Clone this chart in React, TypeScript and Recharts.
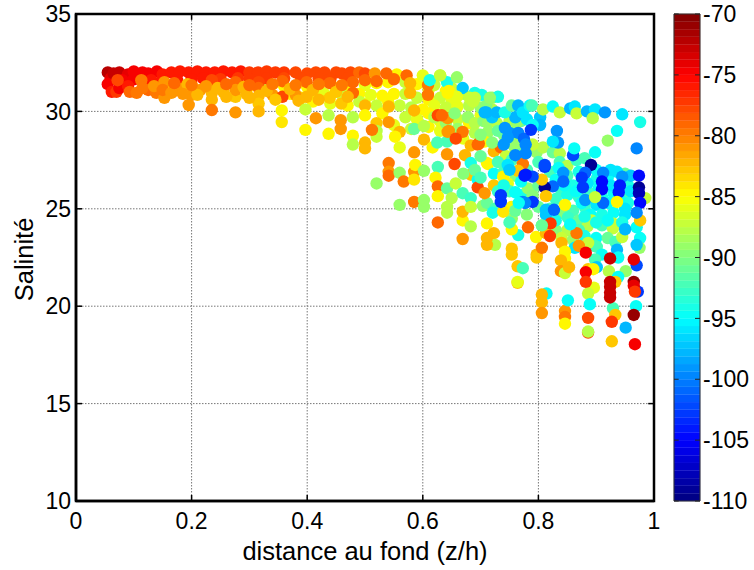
import {
  ScatterChart,
  Scatter,
  XAxis,
  YAxis,
  CartesianGrid,
  ReferenceArea,
  ReferenceLine,
} from 'recharts';

type Point = [number, number, number]; // z/h, salinité, niveau (dB)

const xTicks = [0, 0.2, 0.4, 0.6, 0.8, 1];
const yTicks = [10, 15, 20, 25, 30, 35];
const colorTicks = [-110, -105, -100, -95, -90, -85, -80, -75, -70];

// couche jaune sous la bande rouge
const bandeJaune: Point[] = [
  [.12, 31.35, -85], [.16, 31.3, -85], [.2, 31.35, -84], [.25, 31.3, -85], [.3, 31.3, -85], [.33, 31.2, -87],
  [.36, 31.3, -85], [.4, 31.25, -85], [.42, 31.2, -85], [.45, 31.2, -85], [.47, 31.3, -85], [.5, 31.35, -86],
  [.52, 31.45, -85], [.54, 31.5, -85], [.555, 31.9, -85], [.57, 31.5, -87], [.59, 31.4, -85], [.6, 31.85, -86],
  [.61, 31.1, -86], [.63, 31.85, -87], [.62, 31.35, -87], [.64, 31.05, -85], [.65, 31.2, -87], [.37, 30.9, -85],
  [.39, 30.7, -85], [.43, 30.9, -86], [.46, 30.85, -87], [.49, 30.9, -85], [.51, 30.85, -86], [.53, 30.8, -85],
  [.55, 30.9, -85], [.57, 30.9, -87], [.59, 30.7, -87], [.61, 30.6, -85], [.63, 30.7, -87], [.65, 30.6, -86],
  [.5, 30.4, -86], [.52, 30.3, -87], [.54, 30.5, -85], [.56, 30.3, -87], [.58, 30.2, -88], [.6, 30.1, -85],
  [.62, 30.3, -86], [.64, 30.2, -87], [.66, 30.25, -86], [.68, 30.3, -88], [.53, 29.9, -85], [.57, 29.7, -87],
  [.59, 29.6, -86], [.61, 29.9, -85], [.63, 29.5, -86], [.66, 29.6, -87], [.68, 29.4, -85], [.7, 29.8, -86],
  [.55, 29.3, -86], [.58, 29.1, -87], [.61, 29.2, -85], [.63, 29.0, -86], [.65, 28.7, -85], [.67, 28.6, -86],
  [.41, 30.5, -85], [.44, 30.4, -86], [.47, 30.3, -85], [.49, 30.5, -87], [.62, 29.7, -88], [.64, 29.4, -89],
  [.67, 30.9, -88], [.7, 30.2, -89], [.72, 30.1, -88], [.66, 29.1, -89], [.69, 28.9, -88], [.71, 30.3, -90],
];

const bandeRouge: Point[] = [
  [.055, 32, -72], [.06, 31.7, -74], [.055, 31.4, -75], [.065, 31.95, -73], [.075, 32, -73], [.09, 31.9, -74],
  [.1, 32.05, -75], [.115, 32, -75], [.125, 31.95, -75], [.14, 32.05, -75], [.15, 31.9, -76], [.165, 32, -76],
  [.18, 32.05, -76], [.195, 32, -76], [.21, 32.05, -76], [.225, 32, -76], [.24, 32, -76], [.255, 32.05, -76],
  [.27, 32, -76], [.285, 32.05, -76], [.3, 32, -77], [.315, 32, -77], [.33, 32.05, -77], [.345, 32, -77],
  [.36, 32, -77], [.38, 32, -78], [.4, 31.95, -78], [.415, 32, -78], [.43, 32, -78], [.45, 32, -78],
  [.46, 31.95, -78], [.475, 32, -78], [.49, 32, -79], [.5, 31.95, -78], [.08, 31.6, -75], [.1, 31.65, -75],
  [.13, 31.6, -76], [.15, 31.65, -76], [.175, 31.6, -76], [.2, 31.65, -76], [.22, 31.7, -76], [.25, 31.65, -77],
  [.28, 31.7, -77], [.3, 31.65, -77], [.33, 31.7, -77], [.36, 31.7, -78], [.39, 31.7, -78], [.42, 31.7, -78],
  [.44, 31.65, -78], [.47, 31.7, -78], [.062, 31, -76], [.07, 31, -77], [.075, 31.2, -75], [.09, 31.3, -76],
];

const bandeOrange: Point[] = [
  [.072, 31.6, -78], [.093, 31, -79], [.105, 30.95, -80], [.113, 31.6, -80], [.125, 31.1, -79], [.139, 30.95, -80],
  [.153, 31.5, -81], [.153, 30.7, -81], [.17, 31.05, -80], [.18, 31.15, -81], [.193, 31.4, -82], [.195, 30.33, -81],
  [.2, 30.85, -81], [.215, 31.1, -81], [.235, 31.6, -78], [.235, 30.95, -82], [.235, 30.6, -82], [.235, 30.07, -80],
  [.255, 31.0, -82], [.276, 31.5, -79], [.276, 30.75, -83], [.276, 31.1, -81], [.276, 29.95, -81], [.295, 30.9, -82],
  [.316, 31.5, -78], [.316, 31.2, -79], [.316, 30.8, -82], [.316, 30.4, -83], [.316, 30, -82], [.34, 30.85, -81],
  [.357, 31.55, -79], [.357, 30.75, -78], [.38, 30.85, -81], [.399, 31.5, -79], [.399, 30.75, -82], [.415, 29.65, -81],
  [.439, 31.45, -79], [.439, 30.7, -83], [.458, 29.55, -81], [.458, 29.1, -81], [.459, 30.4, -83], [.479, 30.95, -79],
  [.479, 31.5, -79], [.5, 31.6, -79], [.517, 31.95, -81], [.5, 30.3, -82], [.52, 31.55, -79], [.537, 31.95, -79],
  [.55, 31.65, -79], [.572, 31.85, -79], [.578, 31.45, -82], [.578, 30.95, -82], [.541, 30.25, -82], [.541, 29.45, -81],
  [.52, 29.4, -83], [.585, 30.05, -82], [.609, 31.35, -80], [.609, 30.85, -80], [.626, 29.8, -78], [.643, 29.65, -81],
  [.115, 31.2, -80], [.135, 31.3, -81], [.15, 31.1, -80], [.165, 30.95, -81], [.185, 30.9, -81], [.21, 30.85, -82],
  [.225, 31.3, -81], [.245, 31.2, -82], [.26, 30.75, -82], [.29, 31.25, -82], [.3, 30.7, -82], [.33, 31.05, -82],
  [.345, 30.6, -83], [.37, 31.15, -82], [.385, 30.55, -82], [.41, 31.1, -82], [.42, 30.6, -82], [.45, 31.0, -83],
  [.47, 30.75, -82], [.17, 31.45, -79], [.2, 31.35, -80], [.26, 31.4, -79], [.3, 31.35, -79], [.34, 31.4, -80],
  [.38, 31.35, -80], [.42, 31.4, -80], [.46, 31.35, -80],
];

const franges: Point[] = [
  [.356, 30.05, -85], [.356, 29.45, -84], [.397, 30.1, -87], [.397, 29.05, -85], [.437, 29.8, -88], [.437, 28.85, -85],
  [.479, 29.7, -88], [.479, 28.75, -85], [.479, 28.3, -88], [.5, 29.8, -85], [.5, 28.4, -82], [.5, 28.1, -82],
  [.52, 29, -88], [.52, 28.7, -87], [.512, 29.05, -80], [.541, 27.35, -80], [.541, 26.9, -81], [.541, 26.7, -79],
  [.52, 26.3, -89], [.56, 26.85, -89], [.567, 26.4, -80], [.56, 25.2, -89], [.585, 25.35, -80], [.602, 25.1, -89],
  [.602, 25.45, -89], [.585, 26.9, -81], [.585, 26.5, -84], [.587, 27.25, -85], [.602, 26.95, -89], [.585, 27.9, -81],
  [.56, 28.15, -86], [.56, 28.95, -82], [.552, 28.7, -85], [.585, 29.1, -91], [.602, 28.55, -82], [.617, 28.15, -85],
  [.602, 29.25, -88], [.626, 27.15, -92], [.622, 26.6, -85], [.626, 26.15, -79], [.626, 25.65, -85], [.642, 26.05, -91],
  [.65, 25.55, -88], [.657, 26.3, -87], [.642, 25.1, -88], [.642, 24.8, -88], [.626, 24.3, -79], [.669, 24.4, -85],
  [.669, 24.85, -82], [.683, 24.1, -88], [.669, 23.45, -81], [.669, 25.8, -92], [.683, 25.55, -93], [.683, 25.1, -87],
  [.704, 25.15, -89], [.711, 25.3, -91], [.711, 24.25, -85], [.723, 23.75, -82], [.725, 23.15, -88], [.711, 23.5, -82],
  [.711, 23.15, -82], [.765, 23.65, -94], [.754, 22.95, -83], [.754, 22.65, -83], [.754, 23.95, -85], [.754, 24.5, -89],
  [.754, 25.1, -85], [.725, 25, -92], [.721, 24.8, -94], [.739, 24.85, -84], [.764, 22.05, -83], [.773, 21.95, -92],
  [.764, 21.2, -83], [.764, 21.25, -86], [.814, 20.65, -95], [.806, 20.6, -82], [.806, 20.2, -82], [.806, 19.65, -81],
  [.846, 19.75, -81], [.846, 19.45, -80], [.846, 19.1, -85], [.851, 20.3, -95], [.797, 22.65, -82], [.797, 22.5, -83],
  [.806, 23, -80],
];

// zone centrale, verts et cyans
const milieu: Point[] = [
  [.612, 31.6, -94], [.642, 31.5, -94], [.659, 31.75, -89], [.63, 31.85, -87], [.669, 31.2, -97], [.69, 30.95, -94],
  [.702, 30.85, -94], [.681, 30.7, -87], [.69, 30.7, -87], [.645, 31.05, -85], [.659, 30.75, -86], [.72, 30.7, -89],
  [.73, 30.75, -94], [.716, 30.7, -89], [.687, 30.5, -87], [.643, 30.95, -85], [.655, 29.9, -90], [.678, 29.7, -89],
  [.69, 29.4, -88], [.705, 29.5, -90], [.713, 29.4, -89], [.713, 28.95, -89], [.728, 29.4, -88], [.645, 29, -81],
  [.633, 29.8, -79], [.642, 28.45, -92], [.625, 28.4, -92], [.643, 28.95, -81], [.669, 28.95, -80], [.657, 28.6, -78],
  [.642, 27.8, -81], [.655, 27.3, -78], [.673, 27.75, -82], [.683, 28.25, -82], [.695, 28.3, -79], [.707, 28.45, -85],
  [.697, 28.35, -79], [.723, 27.95, -82], [.735, 28.15, -79], [.744, 27.7, -87], [.683, 27.35, -94], [.711, 27.35, -85],
  [.713, 27.3, -85], [.683, 26.75, -83], [.695, 26.5, -95], [.723, 26.8, -95], [.723, 26.2, -83], [.695, 26.1, -78],
  [.707, 25.8, -81], [.67, 26.8, -90], [.69, 27, -91], [.7, 27.7, -91], [.72, 28.4, -90], [.74, 28.8, -90],
  [.76, 29, -90], [.7, 28.8, -90], [.73, 29, -91], [.75, 29.5, -88], [.77, 29.5, -91], [.75, 28.4, -90],
  [.77, 28.5, -89], [.763, 29.45, -89], [.763, 28.7, -89], [.759, 28.15, -89], [.797, 27.9, -89], [.808, 28.15, -88],
  [.79, 28.3, -87], [.77, 27.8, -91], [.754, 27.5, -92], [.73, 27.4, -92], [.74, 26.9, -92], [.76, 26.7, -90],
  [.78, 27, -92], [.8, 27.4, -92], [.747, 26.3, -86], [.739, 26.65, -85], [.75, 25.9, -92], [.77, 25.7, -94],
  [.782, 26.05, -89], [.76, 25.85, -95], [.79, 25.7, -90], [.8, 26.2, -91], [.8, 25.1, -91], [.78, 24.7, -90],
  [.76, 24.9, -91], [.73, 25.9, -93], [.773, 27.3, -80], [.765, 26.95, -83], [.7, 26.6, -92], [.75, 24.3, -92],
  [.806, 24.15, -91], [.82, 25, -92], [.82, 26.9, -92], [.825, 27.9, -91], [.837, 27.85, -88], [.837, 27.4, -92],
  [.85, 27.2, -88], [.85, 26.7, -92], [.866, 27.5, -93], [.87, 26.9, -94], [.86, 26.2, -94], [.84, 25.9, -93],
  [.83, 25.5, -93], [.85, 25.7, -94], [.87, 25.6, -93], [.89, 25.8, -93], [.9, 26.5, -94], [.9, 27, -95],
  [.92, 26.6, -95], [.925, 27, -96], [.95, 26.8, -91], [.955, 26.2, -94], [.95, 25.7, -92], [.93, 25.8, -95],
  [.955, 25.3, -94], [.92, 25.3, -95], [.9, 25.2, -96], [.88, 25.1, -93], [.86, 24.9, -92], [.84, 24.8, -90],
  [.851, 24.55, -93], [.87, 24.4, -91], [.89, 24.7, -95], [.91, 24.7, -94], [.93, 24.8, -95], [.95, 24.7, -96],
  [.892, 24.4, -87], [.885, 24.1, -88], [.91, 24.15, -92], [.929, 24.25, -87], [.929, 24, -87], [.87, 23.9, -92],
  [.85, 23.9, -88], [.83, 23.9, -90], [.84, 23.5, -87], [.86, 23.4, -89], [.88, 23.6, -94], [.9, 23.5, -95],
  [.92, 23.5, -91], [.933, 23.3, -92], [.945, 23.55, -87], [.897, 23.1, -92], [.901, 23.05, -92], [.91, 22.65, -95],
  [.898, 22.4, -92], [.901, 22, -97], [.936, 22.9, -98], [.938, 22.5, -95], [.886, 23.25, -87], [.863, 23, -96],
  [.896, 20.95, -86], [.886, 20.65, -87], [.889, 20.1, -95], [.929, 19.9, -92], [.969, 20, -95], [.922, 21.8, -88],
  [.951, 21.8, -89], [.938, 21.5, -95], [.97, 24.05, -95], [.976, 24.4, -83], [.985, 25.55, -87], [.976, 23.5, -95],
  [.975, 23, -89], [.796, 23.55, -85], [.813, 23.75, -82], [.84, 23.25, -82], [.846, 22.8, -85], [.846, 22.45, -85],
  [.839, 22.35, -82], [.839, 21.8, -81], [.846, 21.7, -87], [.853, 22, -82], [.866, 23.75, -80], [.87, 23.1, -81],
  [.886, 21.9, -83], [.895, 21.9, -85], [.933, 19.55, -83], [.933, 21.25, -83],
];

// complément de cyans et de bleus dans le nuage de droite
const cyans: Point[] = [
  [.83, 26.5, -95], [.845, 26.2, -95], [.865, 25.9, -95], [.885, 26.3, -96], [.905, 26.1, -95], [.925, 26.2, -96],
  [.94, 25.5, -95], [.96, 25.9, -96], [.96, 26.7, -97], [.91, 25.6, -94], [.88, 24.6, -94], [.9, 24.3, -94],
  [.855, 24.2, -95], [.83, 24.4, -94], [.92, 24.4, -95], [.945, 24.3, -94], [.95, 25, -96], [.875, 25.3, -95],
  [.835, 27.1, -95], [.88, 27.6, -92], [.77, 26.4, -95], [.74, 26.2, -94], [.78, 29.6, -96], [.76, 29.7, -98],
  [.72, 29.7, -97], [.75, 28.9, -99], [.765, 28.9, -100], [.74, 28.3, -99], [.76, 27.75, -100], [.775, 28.6, -101],
];

const bleus: Point[] = [
  [.707, 29.95, -98], [.71, 29.95, -98], [.728, 29.95, -98], [.742, 29.95, -94], [.754, 30.3, -91], [.765, 30.3, -98],
  [.773, 29.95, -96], [.785, 30.3, -95], [.789, 30.3, -92], [.742, 29.15, -99], [.747, 28.65, -99], [.747, 27.25, -96],
  [.75, 27, -97], [.778, 28.3, -100], [.778, 27.85, -100], [.803, 29.7, -97], [.803, 29.3, -98], [.79, 29.3, -95],
  [.787, 29.05, -103], [.808, 30.1, -88], [.825, 30.25, -95], [.837, 29.95, -87], [.855, 30.15, -98], [.863, 30.25, -96],
  [.866, 29.9, -87], [.884, 30, -98], [.898, 30.1, -96], [.894, 29.65, -88], [.915, 29.95, -99], [.945, 29.85, -96],
  [.976, 29.45, -94], [.936, 29, -95], [.92, 28.5, -89], [.97, 28.1, -100], [.898, 27.9, -95], [.86, 27.75, -102],
  [.862, 28.1, -95], [.832, 29, -99], [.834, 28.4, -99], [.825, 28.45, -96], [.811, 27.15, -103], [.811, 27.25, -102],
  [.891, 27.25, -109], [.881, 26.85, -101], [.875, 26.6, -103], [.877, 26.1, -103], [.912, 26.85, -100], [.91, 26.4, -105],
  [.91, 26, -105], [.936, 26.9, -96], [.945, 26.65, -99], [.941, 26.2, -104], [.939, 25.85, -104], [.974, 26.7, -105],
  [.974, 26.1, -109], [.974, 25.8, -108], [.976, 25.3, -105], [.97, 24.8, -100], [.881, 25.45, -99], [.912, 25.3, -101],
  [.898, 25.6, -87], [.936, 25.35, -85], [.843, 26.85, -99], [.843, 26.4, -101], [.825, 26.15, -101], [.811, 26.1, -109],
  [.813, 25.65, -83], [.806, 26.5, -83], [.79, 26.65, -102], [.776, 26.7, -104], [.778, 26.75, -104], [.79, 25.35, -103],
  [.773, 25.35, -100], [.777, 25.3, -100], [.766, 25.3, -95], [.735, 25.7, -103], [.735, 25.35, -103], [.813, 24.95, -97],
  [.813, 24.7, -97], [.827, 24.95, -101], [.846, 25.2, -85], [.95, 23.95, -98], [.97, 23.15, -97], [.97, 22.1, -102],
  [.972, 20.75, -103], [.951, 18.9, -98],
];

// points chauds du bas à droite
const chauds: Point[] = [
  [.782, 24.05, -79], [.821, 24.25, -77], [.82, 23.6, -77], [.806, 24.15, -91], [.882, 22.75, -75], [.924, 22.45, -73],
  [.965, 22.4, -74], [.882, 21.75, -75], [.882, 21.25, -77], [.924, 21.25, -73], [.924, 21, -73], [.924, 20.7, -73],
  [.924, 20.45, -73], [.965, 21.25, -71], [.965, 21.05, -74], [.967, 20.75, -77], [.965, 19.55, -71], [.927, 19.2, -77],
  [.886, 19.4, -78], [.886, 18.65, -78], [.886, 18.7, -88], [.927, 18.2, -83], [.967, 18.05, -75],
];

const points: Point[] = [...bandeJaune, ...bandeRouge, ...bandeOrange, ...franges, ...milieu, ...cyans, ...bleus, ...chauds];
const scatterData = points.map(([x, y, c]) => ({ x, y, c }));

const LEVELS = 64;
const C_MIN = -110;
const C_MAX = -70;
const levels = Array.from({ length: LEVELS }, (_, i) => i);

function jet(t: number) {
  const f = (v: number) => Math.round(255 * Math.max(0, Math.min(1, 1.5 - Math.abs(4 * t - v))));
  return `rgb(${f(3)},${f(2)},${f(1)})`;
}

function levelColor(c: number) {
  const i = Math.max(0, Math.min(LEVELS - 1, Math.floor(((c - C_MIN) / (C_MAX - C_MIN)) * LEVELS)));
  return jet((i + 0.5) / LEVELS);
}

const FONT = '"Liberation Sans", Arial, sans-serif';
const blank = () => <g />;

const renderDot = (props: any) => (
  <circle cx={props.cx} cy={props.cy} r={6.2} fill={levelColor(props.payload.c)} />
);

export default function App() {
  const tickStyle = { fontSize: 23, fill: '#000', fontFamily: FONT };
  return (
    <div style={{ position: 'fixed', left: 0, top: 0, width: 754, height: 570, background: '#fff' }}>
      <div style={{ position: 'absolute', left: 0, top: 0 }}>
        <ScatterChart
          width={680}
          height={570}
          margin={{ top: 14, right: 26, bottom: 24, left: 16 }}
        >
          <CartesianGrid
            stroke="#777"
            strokeDasharray="1.5 1.5"
            horizontalValues={yTicks}
            verticalValues={xTicks}
          />
          <XAxis
            type="number"
            dataKey="x"
            domain={[0, 1]}
            ticks={xTicks}
            interval={0}
            height={45}
            tickSize={-6}
            tickMargin={18}
            axisLine={{ stroke: '#000', strokeWidth: 2.5 }}
            tickLine={{ stroke: '#000', strokeWidth: 1.5 }}
            tick={tickStyle}
            label={{ value: 'distance au fond (z/h)', position: 'insideBottom', offset: -14, fontSize: 25.5, fill: '#000', fontFamily: FONT }}
          />
          <YAxis
            type="number"
            dataKey="y"
            domain={[10, 35]}
            ticks={yTicks}
            interval={0}
            width={60}
            tickSize={-6}
            tickMargin={11}
            axisLine={{ stroke: '#000', strokeWidth: 2.5 }}
            tickLine={{ stroke: '#000', strokeWidth: 1.5 }}
            tick={tickStyle}
            label={{ value: 'Salinité', angle: -90, position: 'insideLeft', offset: 8, dy: 2, fontSize: 25.5, fill: '#000', fontFamily: FONT, style: { textAnchor: 'middle' } }}
          />
          <Scatter data={scatterData} isAnimationActive={false} shape={renderDot} />
          {yTicks.map((v) => (
            <ReferenceLine key={`d-${v}`} segment={[{ x: 0.99, y: v }, { x: 1, y: v }]} stroke="#000" strokeWidth={1.5} />
          ))}
          {xTicks.map((v) => (
            <ReferenceLine key={`h-${v}`} segment={[{ x: v, y: 34.7 }, { x: v, y: 35 }]} stroke="#000" strokeWidth={1.5} />
          ))}
          <ReferenceArea x1={0} x2={1} y1={10} y2={35} fill="none" stroke="#000" strokeWidth={2.5} />
        </ScatterChart>
      </div>
      <div style={{ position: 'absolute', left: 664, top: 0 }}>
        <ScatterChart
          width={90}
          height={570}
          margin={{ top: 14, right: 0, bottom: 69, left: 10 }}
        >
          <XAxis type="number" dataKey="x" domain={[0, 1]} hide />
          <YAxis
            type="number"
            dataKey="y"
            orientation="right"
            domain={[C_MIN, C_MAX]}
            ticks={colorTicks}
            interval={0}
            width={54}
            tickSize={-5}
            tickMargin={8}
            axisLine={false}
            tickLine={{ stroke: '#222', strokeWidth: 1 }}
            tick={{ ...tickStyle, textAnchor: 'start' }}
          />
          {levels.map((i) => (
            <ReferenceArea
              key={`niveau-${i}`}
              x1={0}
              x2={1}
              y1={C_MIN + (i * (C_MAX - C_MIN)) / LEVELS}
              y2={C_MIN + ((i + 1) * (C_MAX - C_MIN)) / LEVELS}
              fill={jet((i + 0.5) / LEVELS)}
              fillOpacity={1}
              stroke={jet((i + 0.5) / LEVELS)}
              strokeWidth={0.3}
            />
          ))}
          <ReferenceArea x1={0} x2={1} y1={C_MIN} y2={C_MAX} fill="none" stroke="#333" strokeWidth={1} />
          {colorTicks.map((v) => (
            <ReferenceLine key={`g-${v}`} segment={[{ x: 0, y: v }, { x: 0.18, y: v }]} stroke="#222" strokeWidth={1} />
          ))}
          <Scatter data={[{ x: 0.5, y: -90 }]} isAnimationActive={false} shape={blank} />
        </ScatterChart>
      </div>
    </div>
  );
}
